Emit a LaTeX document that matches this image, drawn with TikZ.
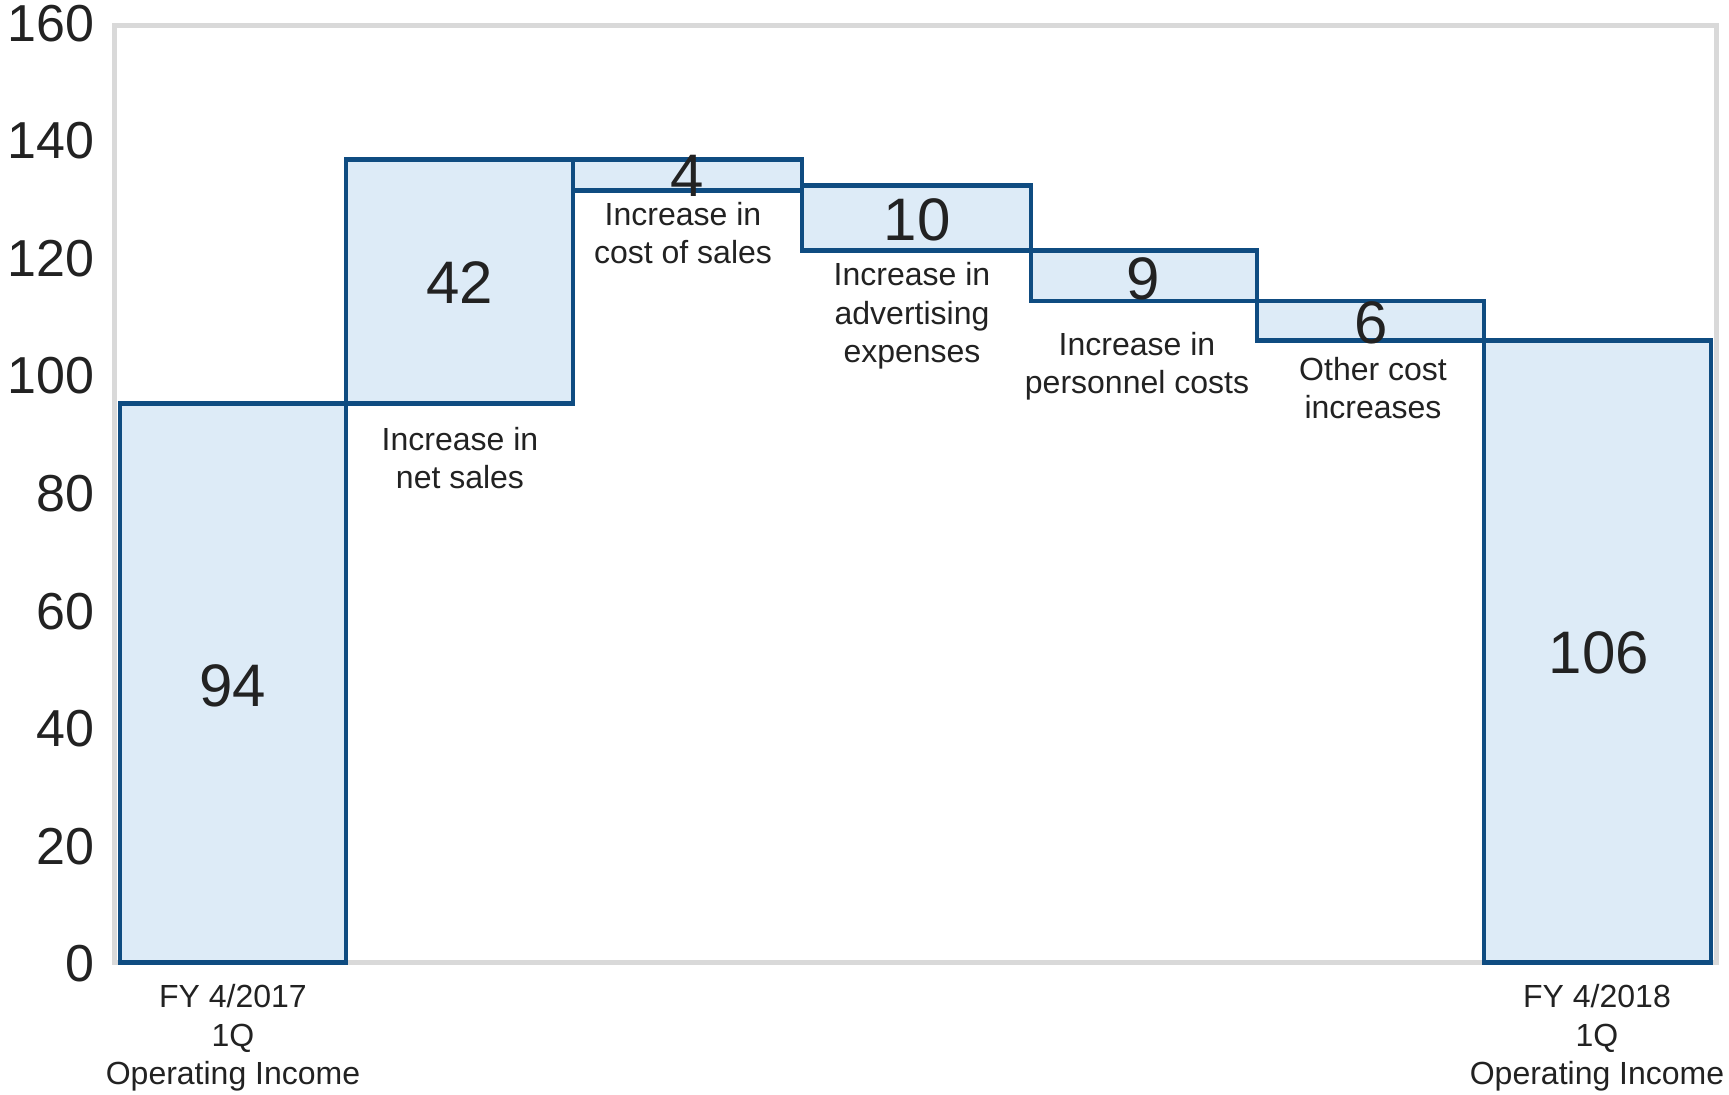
\documentclass[tikz,border=0pt]{standalone}
\usepackage{fontspec}
\setmainfont{Liberation Sans}
\definecolor{barline}{HTML}{0F4C81}
\definecolor{barfill}{HTML}{DDEBF7}
\definecolor{framegrey}{HTML}{D9D9D9}
\definecolor{txt}{HTML}{222222}
\begin{document}
\begin{tikzpicture}[x=0.5pt,y=-0.5pt,
  bar/.style={draw=barline,fill=barfill,line width=2.4pt,line join=miter},
  tick/.style={anchor=east,inner sep=0pt,font=\fontsize{26}{30}\selectfont,text=txt},
  val/.style={inner sep=0pt,font=\fontsize{30}{34}\selectfont,text=txt},
  cat/.style={inner sep=0pt,align=center,font=\fontsize{16}{19.2}\selectfont,text=txt}]
\useasboundingbox[fill=white] (0,0) rectangle (1729,1095);
% frame
\draw[framegrey,line width=2.5pt] (114.5,25.5) rectangle (1716,962);
% bars
\draw[bar] (120,403.5) rectangle (346,962.5);
\draw[bar] (346,159.5) rectangle (573,403.5);
\draw[bar] (573,159.5) rectangle (802,190.5);
\draw[bar] (802,185.5) rectangle (1031,250.5);
\draw[bar] (1031,250.5) rectangle (1257,301);
\draw[bar] (1257,301) rectangle (1484,340.5);
\draw[bar] (1484,340.5) rectangle (1711,962.5);
% ticks
\foreach \v [count=\i from 0] in {0,20,40,60,80,100,120,140,160}
  \node[tick] (t\i) at (95,{964-\i*117.6}) {\v};
% values
\node[val] (v1) at (233,686) {94};
\node[val] (v2) at (460,283) {42};
\node[val] (v3) at (687,176) {4};
\node[val] (v4) at (917,220) {10};
\node[val] (v5) at (1143,279) {9};
\node[val] (v6) at (1371,323) {6};
\node[val] (v7) at (1599,653) {106};
% categories
\node[cat] (c2) at (460,458) {Increase in\\net sales};
\node[cat] (c3) at (683,233) {Increase in\\cost of sales};
\node[cat] (c4) at (912,316) {Increase in\\advertising\\expenses};
\node[cat] (c5) at (1137,366) {Increase in\\personnel costs};
\node[cat] (c6) at (1373,388) {Other cost\\increases};
\node[cat] (c1) at (233,1038) {FY 4/2017\\1Q\\Operating Income};
\node[cat] (c7) at (1597,1038) {FY 4/2018\\1Q\\Operating Income};
\end{tikzpicture}
\end{document}
